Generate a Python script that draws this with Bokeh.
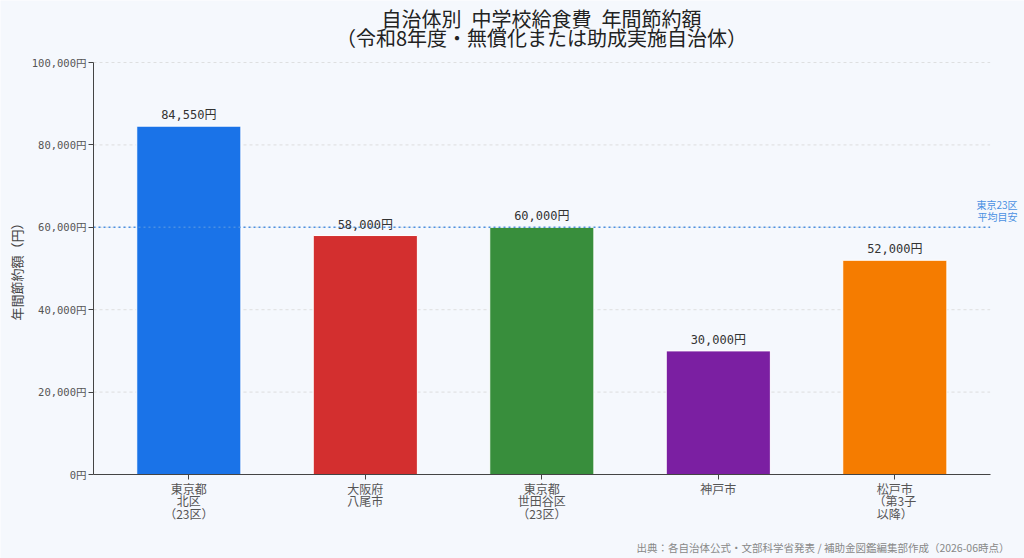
import math
from bokeh.plotting import figure
from bokeh.models import Range1d, Label, ColumnDataSource, FixedTicker
from bokeh.core.properties import value
from bokeh.embed import file_html
from bokeh.resources import INLINE

# data
title_lines = ["自治体別\u2002中学校給食費\u2002年間節約額", "（令和8年度・無償化または助成実施自治体）"]
cities = ["東京都\n北区\n（23区）", "大阪府\n八尾市", "東京都\n世田谷区\n（23区）", "神戸市", "松戸市\n（第3子\n以降）"]
savings = [84550, 58000, 60000, 30000, 52000]
bar_labels = ["84,550円", "58,000円", "60,000円", "30,000円", "52,000円"]
bar_colors = ["#1a73e8", "#d32f2f", "#388e3c", "#7b1fa2", "#f57c00"]
y_ticks = [0, 20000, 40000, 60000, 80000, 100000]
y_tick_labels = ["0円", "20,000円", "40,000円", "60,000円", "80,000円", "100,000円"]
y_max = 100000
ref_value = 60000
ref_label = ["東京23区", "平均目安"]
y_title = "年間節約額（円）"
source_note = "出典：各自治体公式・文部科学省発表 / 補助金図鑑編集部作成（2026-06時点）"

# layout in canvas pixels; the frame covers the whole canvas, axes sit at fixed spots
W, H = 1024, 558
AX_LEFT, AX_TOP, AX_BOTTOM = 93, 62, 474
CAT_PX = 176.5
x_lo, x_hi = -0.54, len(cities) - 0.46
PX_PER_Y = (AX_BOTTOM - AX_TOP) / y_max

def xpx(px):
    return x_lo + (px - AX_LEFT) / CAT_PX

def ypx(py):
    return (AX_BOTTOM - py) / PX_PER_Y

BG = "#f5f8fd"
JP = "Noto Sans CJK JP"
MONO = "DejaVu Sans Mono, Noto Sans CJK JP"

xs = list(range(len(cities)))
src = ColumnDataSource(data=dict(x=xs, top=savings, label=bar_labels, color=bar_colors))

p = figure(width=W, height=H, output_backend="svg", toolbar_location=None,
           x_range=Range1d(xpx(0), xpx(W)),
           y_range=Range1d(ypx(H), ypx(0)),
           background_fill_color=BG, border_fill_color=BG, outline_line_color=None,
           min_border=0)
p.title_location = None

# grid lines
p.segment(x0=x_lo, x1=x_hi, y0=y_ticks[1:], y1=y_ticks[1:], line_color="#d8d8d8",
          line_width=0.8, line_dash="3 3")

p.vbar(x="x", top="top", width=0.59, color="color", line_color="white", line_width=1,
       source=src)

p.segment(x0=x_lo, x1=x_hi, y0=ref_value, y1=ref_value, line_color="#4a90e2",
          line_width=1.5, line_dash="2 3")

p.text(x="x", y="top", text="label", source=src, y_offset=-4, text_align="center",
       text_baseline="bottom", text_font=value(MONO), text_font_size="12px", text_color="#333333")

# titles
for line, py in zip(title_lines, [18, 37]):
    p.add_layout(Label(x=xpx(541), y=ypx(py), text=line, text_align="center",
                       text_baseline="middle", text_font=JP, text_font_size="20px",
                       text_color="#222222"))

# reference label
for line, py in zip(ref_label, [204, 216]):
    p.add_layout(Label(x=xpx(1017), y=ypx(py), text=line, text_align="right",
                       text_baseline="middle", text_font=JP, text_font_size="10px",
                       text_color="#4a90e2"))

# y axis title and source note
p.add_layout(Label(x=xpx(16), y=ypx(268), text=y_title, angle=math.pi / 2,
                   text_align="center", text_baseline="middle", text_font=JP,
                   text_font_size="13px", text_color="#444444"))
p.add_layout(Label(x=xpx(1009), y=ypx(547), text=source_note, text_align="right",
                   text_baseline="middle", text_font=JP, text_font_size="10.5px",
                   text_color="#888888"))

p.xgrid.grid_line_color = None
p.ygrid.grid_line_color = None

p.yaxis.fixed_location = x_lo
p.yaxis.bounds = (0, y_max)
p.yaxis.ticker = FixedTicker(ticks=y_ticks)
p.yaxis.major_label_overrides = dict(zip(y_ticks, y_tick_labels))
p.yaxis.major_label_text_font = MONO
p.yaxis.major_label_text_font_size = "10.5px"
p.yaxis.major_label_standoff = 2

p.xaxis.fixed_location = 0
p.xaxis.bounds = (x_lo, x_hi)
p.xaxis.ticker = FixedTicker(ticks=xs)
p.xaxis.major_label_overrides = dict(zip(xs, cities))
p.xaxis.major_label_text_font = JP
p.xaxis.major_label_text_font_size = "12px"
p.xaxis.major_label_text_line_height = 0.75
p.xaxis.major_label_standoff = 0

for ax in (p.xaxis, p.yaxis):
    ax.axis_line_color = "#444444"
    ax.major_tick_line_color = "#444444"
    ax.minor_tick_line_color = None
    ax.major_tick_in = 0
    ax.major_tick_out = 5
    ax.major_label_text_color = "#555555"

out = file_html(p, INLINE)
open("out.html", "w").write(out)
